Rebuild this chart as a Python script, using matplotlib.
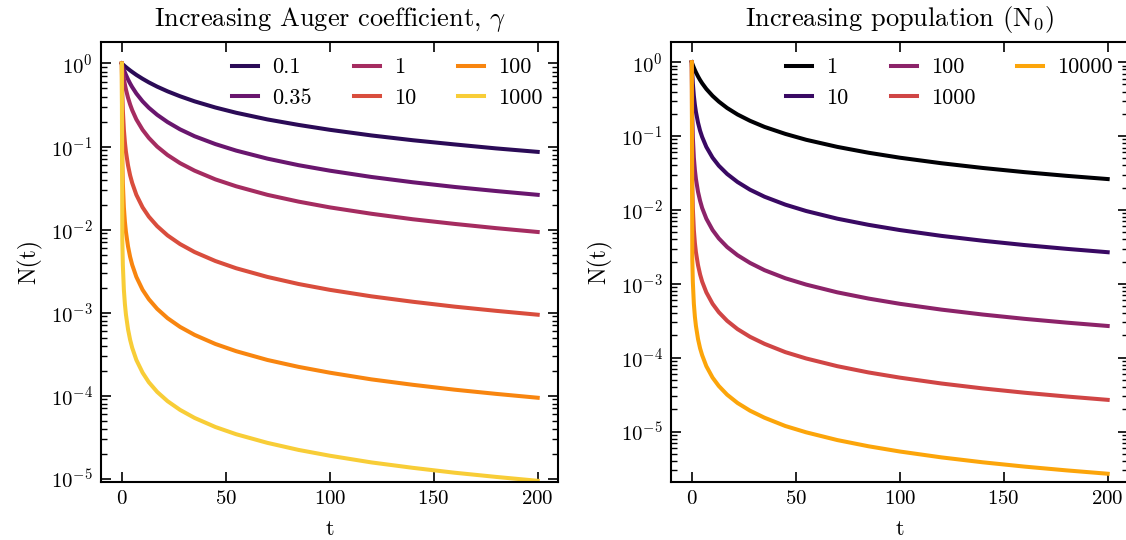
import numpy as np
import matplotlib
matplotlib.use("Agg")
import matplotlib.pyplot as plt

plt.rcParams['font.family'] = 'serif'
plt.rcParams['font.serif'] = ['cmr10']
plt.rcParams['mathtext.fontset'] = 'cm'
plt.rcParams['axes.formatter.use_mathtext'] = True
plt.rcParams['axes.unicode_minus'] = False
plt.rcParams['font.size'] = 15

# time samples shared by every curve
t = [0, 0.25, 0.5, 1, 1.5, 2, 3, 4, 5, 7, 10, 13, 17, 22, 28, 35, 45, 55,
     70, 85, 100, 120, 140, 160, 180, 200]

# left panel: normalised population for increasing Auger coefficient
gamma_labels = ['0.1', '0.35', '1', '10', '100', '1000']
n_g01 = [1, 0.987, 0.974, 0.950, 0.926, 0.904, 0.863, 0.825, 0.791, 0.729,
         0.654, 0.592, 0.526, 0.462, 0.403, 0.350, 0.295, 0.255, 0.212,
         0.182, 0.159, 0.136, 0.119, 0.106, 0.0949, 0.0862]
n_g035 = [1, 0.956, 0.915, 0.844, 0.782, 0.729, 0.642, 0.574, 0.519, 0.435,
          0.350, 0.293, 0.241, 0.197, 0.161, 0.133, 0.107, 0.0893, 0.0715,
          0.0596, 0.0512, 0.0430, 0.0371, 0.0326, 0.0291, 0.0262]
n_g1 = [1, 0.883, 0.791, 0.654, 0.557, 0.485, 0.386, 0.321, 0.274, 0.212,
        0.159, 0.127, 0.0999, 0.0790, 0.0631, 0.0512, 0.0402, 0.0332,
        0.0262, 0.0217, 0.0185, 0.0155, 0.0133, 0.0117, 0.0104, 0.00935]
n_g10 = [1, 0.430, 0.274, 0.159, 0.112, 0.0862, 0.0592, 0.0450, 0.0364,
         0.0262, 0.0185, 0.0143, 0.0110, 0.00850, 0.00669, 0.00536, 0.00418,
         0.00342, 0.00269, 0.00221, 0.00188, 0.00157, 0.00135, 0.00118,
         0.00105, 0.000943]
n_g100 = [1, 0.0702, 0.0364, 0.0185, 0.0124, 0.00935, 0.00625, 0.00469,
          0.00376, 0.00269, 0.00188, 0.00145, 0.00111, 0.000857, 0.000673,
          0.000539, 0.000419, 0.000343, 0.000269, 0.000222, 0.000189,
          0.000157, 0.000135, 0.000118, 0.000105, 9.43e-5]
n_g1000 = [1, 0.00749, 0.00376, 0.00188, 0.00126, 0.000943, 0.000629,
           0.000471, 0.000377, 0.000269, 0.000189, 0.000145, 0.000111,
           8.58e-5, 6.74e-5, 5.39e-5, 4.19e-5, 3.43e-5, 2.70e-5, 2.22e-5,
           1.89e-5, 1.57e-5, 1.35e-5, 1.18e-5, 1.05e-5, 9.43e-6]

# right panel: normalised population for increasing initial population
n0_labels = ['1', '10', '100', '1000', '10000']
n_p1 = [1, 0.956, 0.915, 0.843, 0.782, 0.729, 0.642, 0.573, 0.518, 0.434,
        0.350, 0.293, 0.240, 0.196, 0.161, 0.133, 0.107, 0.0891, 0.0714,
        0.0595, 0.0510, 0.0429, 0.0370, 0.0325, 0.0290, 0.0262]
n_p10 = [1, 0.683, 0.518, 0.350, 0.264, 0.212, 0.152, 0.118, 0.0971, 0.0713,
         0.0510, 0.0397, 0.0307, 0.0239, 0.0188, 0.0151, 0.0118, 0.00968,
         0.00762, 0.00629, 0.00535, 0.00446, 0.00383, 0.00335, 0.00298,
         0.00268]
n_p100 = [1, 0.177, 0.0971, 0.0510, 0.0346, 0.0262, 0.0176, 0.0133, 0.0106,
          0.00762, 0.00535, 0.00412, 0.00315, 0.00244, 0.00192, 0.00153,
          0.00119, 0.000977, 0.000767, 0.000632, 0.000537, 0.000448,
          0.000384, 0.000336, 0.000299, 0.000269]
n_p1000 = [1, 0.0211, 0.0106, 0.00535, 0.00357, 0.00268, 0.00179, 0.00134,
           0.00107, 0.000767, 0.000537, 0.000413, 0.000316, 0.000244,
           0.000192, 0.000154, 0.000119, 9.77e-5, 7.68e-5, 6.32e-5, 5.38e-5,
           4.48e-5, 3.84e-5, 3.36e-5, 2.99e-5, 2.69e-5]
n_p10000 = [1, 0.00215, 0.00107, 0.000537, 0.000358, 0.000269, 0.000179,
            0.000134, 0.000108, 7.68e-5, 5.38e-5, 4.14e-5, 3.16e-5, 2.44e-5,
            1.92e-5, 1.54e-5, 1.19e-5, 9.78e-6, 7.68e-6, 6.33e-6, 5.38e-6,
            4.48e-6, 3.84e-6, 3.36e-6, 2.99e-6, 2.69e-6]

gamma_curves = [n_g01, n_g035, n_g1, n_g10, n_g100, n_g1000]
n0_curves = [n_p1, n_p10, n_p100, n_p1000, n_p10000]

gamma_colors = plt.cm.inferno(np.linspace(0.15, 0.88, len(gamma_curves)))
n0_colors = plt.cm.inferno([0.0, 0.18, 0.38, 0.56, 0.8])


def style_axis(ax):
    ax.set_yscale('log')
    ax.set_xlabel('t', fontsize=16, labelpad=8)
    ax.set_ylabel('N(t)', fontsize=17, labelpad=6)
    ax.set_xticks([0, 50, 100, 150, 200])
    for side in ax.spines.values():
        side.set_linewidth(1.5)
    ax.tick_params(which='both', direction='in', top=True, right=True,
                   labelsize=15)
    ax.tick_params(which='major', length=7, width=1.2, pad=6)
    ax.tick_params(which='minor', length=4, width=1)
    ax.tick_params(axis='x', which='minor', bottom=False, top=False)


fig = plt.figure(figsize=(11.26, 5.4), dpi=100)
ax1 = fig.add_axes([0.0897, 0.108, 0.4063, 0.8137])
ax2 = fig.add_axes([0.5959, 0.108, 0.4063, 0.8137])

for y, lab, c in zip(gamma_curves, gamma_labels, gamma_colors):
    ax1.plot(t, y, color=c, lw=2.9, label=lab)
style_axis(ax1)
ax1.set_ylim(9.2e-6, 1.8)
ax1.set_title(r'Increasing Auger coefficient, $\gamma$', fontsize=19, pad=12)
ax1.legend(ncol=3, frameon=False, loc='upper right', handlelength=1.17,
           handletextpad=0.63, columnspacing=1.9, fontsize=16,
           borderaxespad=0.3)

for y, lab, c in zip(n0_curves, n0_labels, n0_colors):
    ax2.plot(t, y, color=c, lw=2.9, label=lab)
style_axis(ax2)
ax2.set_ylim(2.1e-6, 1.86)
ax2.set_title(r'Increasing population ($\mathrm{N}_0$)', fontsize=19, pad=12)
ax2.legend(ncol=3, frameon=False, loc='upper right', handlelength=1.17,
           handletextpad=0.63, columnspacing=1.9, fontsize=16,
           borderaxespad=0.3)

fig.savefig('out.png', dpi=100)
